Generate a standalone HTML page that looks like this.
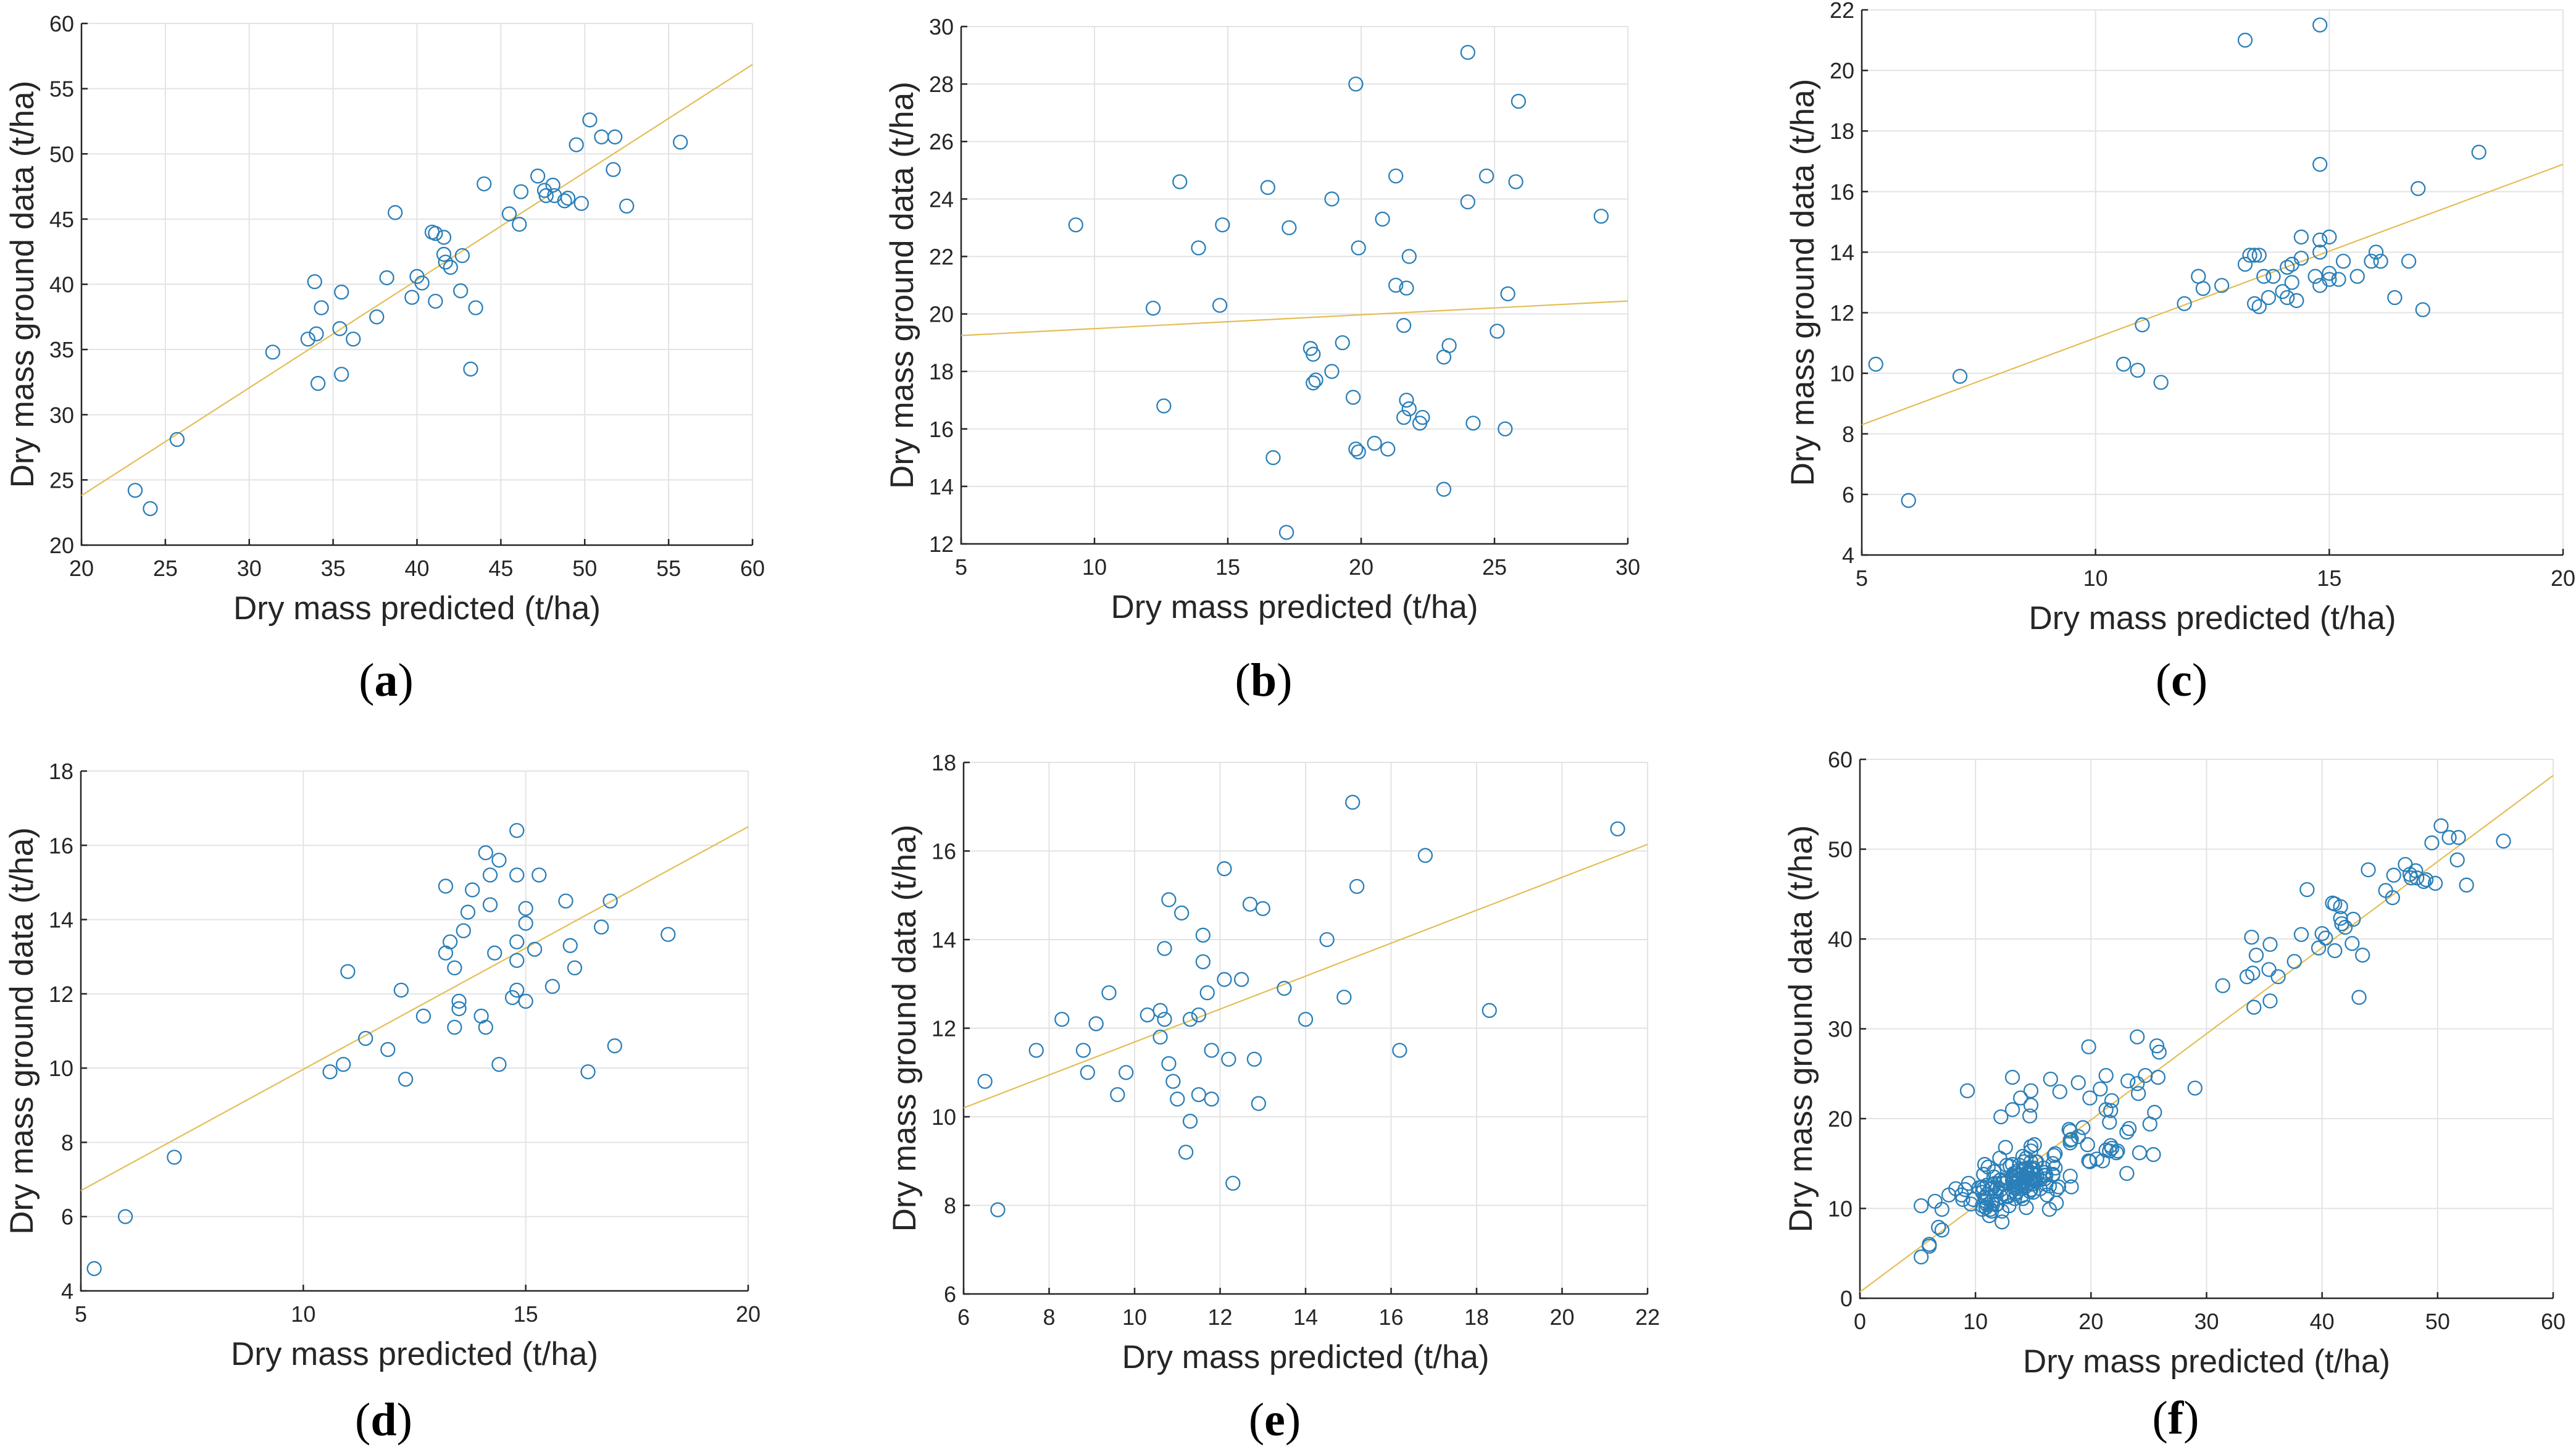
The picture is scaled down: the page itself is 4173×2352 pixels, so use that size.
<!DOCTYPE html>
<html><head><meta charset="utf-8"><style>
html,body{margin:0;padding:0;background:#fff;}
svg{display:block;}
</style></head><body>
<svg id="fig" width="4173" height="2352" viewBox="0 0 4173 2352" xmlns="http://www.w3.org/2000/svg" font-family="'Liberation Sans', Arial, sans-serif"></svg>
<script>
// ---- data ----
const aX=[23.2,24.1,25.7,31.4,33.5,33.9,34.0,34.1,34.3,35.4,35.5,35.5,36.2,37.6,38.2,38.7,39.7,40.0,40.3,40.9,41.1,41.1,41.6,41.6,41.7,42.0,42.6,42.7,43.2,43.5,44.0,45.5,46.1,46.2,47.2,47.6,47.7,48.1,48.2,48.8,49.0,49.8,49.5,50.3,51.0,51.8,51.7,52.5,55.7];
const aY=[24.2,22.8,28.1,34.8,35.8,40.2,36.2,32.4,38.2,36.6,39.4,33.1,35.8,37.5,40.5,45.5,39.0,40.6,40.1,44.0,43.9,38.7,43.6,42.3,41.7,41.3,39.5,42.2,33.5,38.2,47.7,45.4,44.6,47.1,48.3,47.2,46.8,47.6,46.8,46.4,46.6,46.2,50.7,52.6,51.3,51.3,48.8,46.0,50.9];
const bX=[9.3,12.2,12.6,13.2,13.9,14.7,14.8,16.5,16.7,17.2,17.3,18.1,18.2,18.2,18.3,18.9,18.9,19.3,19.7,19.8,19.8,19.9,19.9,20.5,20.8,21.0,21.3,21.3,21.6,21.6,21.7,21.7,21.8,21.8,22.2,22.3,23.1,23.1,23.3,24.0,24.0,24.2,24.7,25.1,25.4,25.5,25.8,25.9,29.0];
const bY=[23.1,20.2,16.8,24.6,22.3,20.3,23.1,24.4,15.0,12.4,23.0,18.8,18.6,17.6,17.7,24.0,18.0,19.0,17.1,28.0,15.3,22.3,15.2,15.5,23.3,15.3,21.0,24.8,19.6,16.4,20.9,17.0,22.0,16.7,16.2,16.4,18.5,13.9,18.9,29.1,23.9,16.2,24.8,19.4,16.0,20.7,24.6,27.4,23.4];
const cX=[5.3,6.0,7.1,10.6,10.9,11.0,11.4,11.9,12.2,12.3,12.7,13.2,13.2,13.3,13.4,13.4,13.5,13.5,13.6,13.7,13.8,14.0,14.1,14.1,14.2,14.2,14.3,14.4,14.4,14.7,14.8,14.8,14.8,14.8,14.8,15.0,15.0,15.0,15.2,15.3,15.6,15.9,16.0,16.1,16.4,16.7,16.9,17.0,18.2];
const cY=[10.3,5.8,9.9,10.3,10.1,11.6,9.7,12.3,13.2,12.8,12.9,21.0,13.6,13.9,12.3,13.9,12.2,13.9,13.2,12.5,13.2,12.7,13.5,12.5,13.6,13.0,12.4,14.5,13.8,13.2,21.5,16.9,14.4,14.0,12.9,14.5,13.3,13.1,13.1,13.7,13.2,13.7,14.0,13.7,12.5,13.7,16.1,12.1,17.3];
const dX=[5.3,6.0,7.1,10.6,10.9,11.0,11.4,11.9,12.2,12.3,12.7,13.2,13.2,13.3,13.4,13.4,13.5,13.5,13.6,13.7,13.8,14.0,14.1,14.1,14.2,14.2,14.3,14.4,14.4,14.7,14.8,14.8,14.8,14.8,14.8,15.0,15.0,15.0,15.2,15.3,15.6,15.9,16.0,16.1,16.4,16.7,16.9,17.0,18.2];
const dY=[4.6,6.0,7.6,9.9,10.1,12.6,10.8,10.5,12.1,9.7,11.4,14.9,13.1,13.4,12.7,11.1,11.8,11.6,13.7,14.2,14.8,11.4,15.8,11.1,15.2,14.4,13.1,15.6,10.1,11.9,16.4,15.2,13.4,12.9,12.1,14.3,13.9,11.8,13.2,15.2,12.2,14.5,13.3,12.7,9.9,13.8,14.5,10.6,13.6];
const eX=[6.5,6.8,7.7,8.3,8.8,8.9,9.1,9.4,9.6,9.8,10.3,10.6,10.6,10.7,10.7,10.8,10.8,10.9,11.0,11.1,11.2,11.3,11.3,11.5,11.5,11.6,11.6,11.7,11.8,11.8,12.1,12.1,12.2,12.3,12.5,12.7,12.8,12.9,13.0,13.5,14.0,14.5,14.9,15.1,15.2,16.2,16.8,18.3,21.3];
const eY=[10.8,7.9,11.5,12.2,11.5,11.0,12.1,12.8,10.5,11.0,12.3,12.4,11.8,13.8,12.2,14.9,11.2,10.8,10.4,14.6,9.2,9.9,12.2,12.3,10.5,14.1,13.5,12.8,11.5,10.4,15.6,13.1,11.3,8.5,13.1,14.8,11.3,10.3,14.7,12.9,12.2,14.0,12.7,17.1,15.2,11.5,15.9,12.4,16.5];
const fX=[].concat(aX,bX,cX,dX,eX);
const fY=[].concat(aY,bY,cY,dY,eY);
// fit lines [value at xmin, value at xmax]
const aFit=[23.8,56.85], bFit=[19.25,20.45], cFit=[8.3,16.9], dFit=[6.7,16.5], eFit=[10.2,16.15], fFit=[0.7,58.2];
// tick labels
const aXT=[20,25,30,35,40,45,50,55,60], aYT=[20,25,30,35,40,45,50,55,60];
const bXT=[5,10,15,20,25,30], bYT=[12,14,16,18,20,22,24,26,28,30];
const cXT=[5,10,15,20], cYT=[4,6,8,10,12,14,16,18,20,22];
const dXT=[5,10,15,20], dYT=[4,6,8,10,12,14,16,18];
const eXT=[6,8,10,12,14,16,18,20,22], eYT=[6,8,10,12,14,16,18];
const fXT=[0,10,20,30,40,50,60], fYT=[0,10,20,30,40,50,60];

const NS='http://www.w3.org/2000/svg';
const svg=document.getElementById('fig');
function mk(tag,attrs,parent){const e=document.createElementNS(NS,tag);for(const k in attrs)e.setAttribute(k,attrs[k]);(parent||svg).appendChild(e);return e;}

const panels=[
 {id:'a',L:132,R:1219,T:38,B:883,xt:aXT,yt:aYT,X:aX,Y:aY,fit:aFit,lt:1127},
 {id:'b',L:1557,R:2637,T:43,B:881,xt:bXT,yt:bYT,X:bX,Y:bY,fit:bFit,lt:1127},
 {id:'c',L:3016,R:4152,T:16,B:899,xt:cXT,yt:cYT,X:cX,Y:cY,fit:cFit,lt:1127},
 {id:'d',L:131,R:1212,T:1249,B:2091,xt:dXT,yt:dYT,X:dX,Y:dY,fit:dFit,lt:2325},
 {id:'e',L:1561,R:2669,T:1235,B:2096,xt:eXT,yt:eYT,X:eX,Y:eY,fit:eFit,lt:2325},
 {id:'f',L:3013,R:4136,T:1230,B:2103,xt:fXT,yt:fYT,X:fX,Y:fY,fit:fFit,lt:2322}
];

panels.forEach(p=>{
  const g=mk('g',{});
  
  
  const x0=p.xt[0],x1=p.xt[p.xt.length-1],y0=p.yt[0],y1=p.yt[p.yt.length-1];
  const sx=v=>p.L+(v-x0)/(x1-x0)*(p.R-p.L);
  const sy=v=>p.B-(v-y0)/(y1-y0)*(p.B-p.T);
  p.xt.forEach(t=>{const l=mk('line',{x1:sx(t),x2:sx(t),y1:p.T,y2:p.B,stroke:'#e3e3e3','stroke-width':2},g);
    });
  p.yt.forEach(t=>{const l=mk('line',{x1:p.L,x2:p.R,y1:sy(t),y2:sy(t),stroke:'#e3e3e3','stroke-width':2},g);
    });
  const ax=mk('path',{d:`M${p.L},${p.T}V${p.B}H${p.R}`,fill:'none',stroke:'#262626','stroke-width':2.5},g);
  
  p.xt.forEach(t=>{
    mk('line',{x1:sx(t),x2:sx(t),y1:p.B,y2:p.B-10,stroke:'#262626','stroke-width':2.5},g);
    const tx=mk('text',{x:sx(t),y:p.B+50,'font-size':36,fill:'#262626','text-anchor':'middle'},g);
    tx.textContent=t;
  });
  p.yt.forEach(t=>{
    mk('line',{x1:p.L,x2:p.L+10,y1:sy(t),y2:sy(t),stroke:'#262626','stroke-width':2.5},g);
    const tx=mk('text',{x:p.L-12,y:sy(t)+13,'font-size':36,fill:'#262626','text-anchor':'end'},g);
    tx.textContent=t;
  });
  const fl=mk('line',{x1:sx(x0),y1:sy(p.fit[0]),x2:sx(x1),y2:sy(p.fit[1]),stroke:'#E3BE55','stroke-width':2.2},g);
  
  p.X.forEach((v,i)=>{
    const c=mk('circle',{cx:sx(v),cy:sy(p.Y[i]),r:11,fill:'none',stroke:'#2A7FB8','stroke-width':2.3},g);
    
  });
  const xl=mk('text',{x:(p.L+p.R)/2,y:p.B+120,'font-size':53,fill:'#262626','text-anchor':'middle'},g);
  xl.textContent='Dry mass predicted (t/ha)';
  
  const cx=p.L-78,cy=(p.T+p.B)/2;
  const yl=mk('text',{x:cx,y:cy,'font-size':53,fill:'#262626','text-anchor':'middle',transform:`rotate(-90 ${cx} ${cy})`},g);
  yl.textContent='Dry mass ground data (t/ha)';
  
  const lt=mk('text',{x:(p.L+p.R)/2-50,y:p.lt,'font-size':76,fill:'#000','text-anchor':'middle','font-family':"'Liberation Serif', serif"},g);
  lt.innerHTML='(<tspan font-weight="bold">'+p.id+'</tspan>)';
  
});
</script>
</body></html>
